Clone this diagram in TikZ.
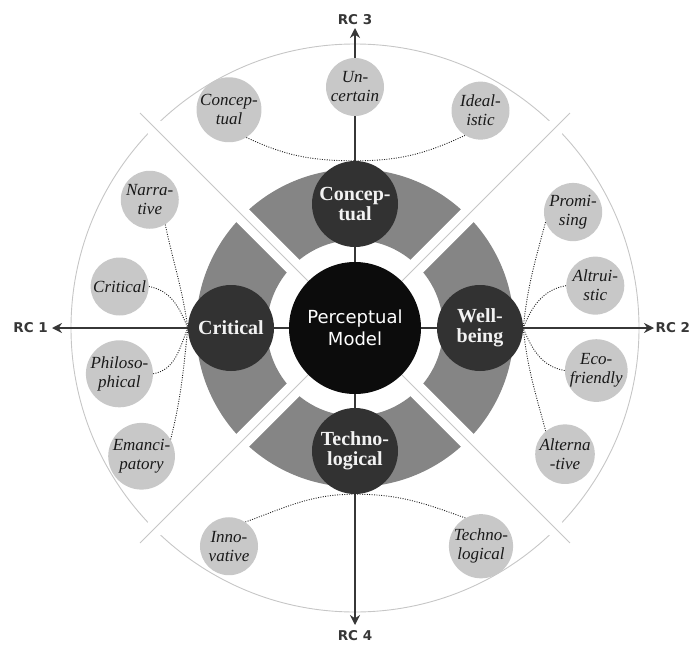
\documentclass[tikz,border=0pt]{standalone}
\usepackage{fontspec}
\setmainfont{Liberation Serif}
\newfontfamily\rcsans{DejaVu Sans}
\usepackage{tikz}
\usetikzlibrary{arrows.meta,positioning,backgrounds}
\definecolor{ringgray}{RGB}{133,133,133}
\definecolor{dimdark}{RGB}{50,50,50}
\definecolor{coreblack}{RGB}{12,12,12}
\definecolor{itemgray}{RGB}{200,200,200}
\definecolor{rimgray}{RGB}{198,198,198}
\definecolor{axisdark}{RGB}{55,55,55}

\begin{document}
\begin{tikzpicture}[
  x=1pt,y=1pt,
  core/.style={circle,fill=coreblack,text=white,minimum size=132pt,inner sep=0pt,align=center,font=\rcsans\fontsize{18}{22}\selectfont},
  dim/.style={circle,fill=dimdark,text=white!95!black,minimum size=86pt,inner sep=0pt,align=center,font=\bfseries\fontsize{20}{20}\selectfont},
  item/.style={circle,fill=itemgray,text=black!90,minimum size=58pt,inner sep=0pt,align=center,font=\itshape\fontsize{17}{19}\selectfont},
  rc/.style={font=\rcsans\bfseries\fontsize{13.5}{16}\selectfont,text=axisdark,inner sep=1pt},
  axis/.style={-{Stealth[length=10pt,width=10pt]},line width=2.5pt,draw=axisdark},
  link/.style={draw=black!85,line width=0.9pt,dash pattern=on 1pt off 1.4pt},
  rim/.style={draw=rimgray,line width=0.9pt}
]
  \useasboundingbox (-355,-317) rectangle (337,328);

  \node[core] (pm) at (0,0) {Perceptual\\Model};
  \node[dim] (conc) at (90:124) {Concep-\\tual};
  \node[dim] (well) at (0:125) {Well-\\being};
  \node[dim] (tech) at (270:123) {Techno-\\logical};
  \node[dim] (crit) at (180:124) {Critical};

  \node[item] (concS) at (120:252) {Concep-\\tual};
  \node[item] (uncert) at (90:241) {Un-\\certain};
  \node[item] (ideal) at (60:251) {Ideal-\\istic};
  \node[item] (narr) at (148:242) {Narra-\\tive};
  \node[item] (critS) at (170:239) {Critical};
  \node[item] (philo) at (191:240) {Philoso-\\phical};
  \node[item] (emanc) at (211:249) {Emanci-\\patory};
  \node[item] (promi) at (28:247) {Promi-\\sing};
  \node[item] (altru) at (10:244) {Altrui-\\stic};
  \node[item] (eco) at (-10:245) {Eco-\\friendly};
  \node[item] (alter) at (-31:245) {Alterna\\-tive};
  \node[item] (innov) at (240:252) {Inno-\\vative};
  \node[item] (techS) at (300:252) {Techno-\\logical};

  \coordinate (rc1) at (-303,0);
  \coordinate (rc2) at (299,0);
  \coordinate (rc3) at (0,300);
  \coordinate (rc4) at (0,-297);
  \node[rc,left=3pt of rc1] (lab1) {RC 1};
  \node[rc,right=0.5pt of rc2] (lab2) {RC 2};
  \node[rc,above=2pt of rc3] (lab3) {RC 3};
  \node[rc,below=4pt of rc4] (lab4) {RC 4};

  \begin{scope}[on background layer]
    \draw[rim] (0,0) circle (284);
    \fill[ringgray,even odd rule] (0,0) circle (159) (0,0) circle (88);
    \draw[white,line width=18pt] (135:312) -- (-45:312);
    \draw[white,line width=18pt] (45:312) -- (225:312);
    \draw[rim] (135:304) -- (-45:304);
    \draw[rim] (45:304) -- (225:304);

    \draw[axis] (pm) -- (rc1);
    \draw[axis] (pm) -- (rc2);
    \draw[axis] (pm) -- (rc3);
    \draw[axis] (pm) -- (rc4);

    \draw[link] (concS.-58) to[out=-25,in=180] (conc.north);
    \draw[link] (ideal.238) to[out=205,in=0] (conc.north);
    \draw[link] (narr.-58) to[out=-78,in=98] (crit.west);
    \draw[link] (critS.0) to[out=-10,in=112] (crit.west);
    \draw[link] (philo.0) to[out=10,in=-112] (crit.west);
    \draw[link] (emanc.30) to[out=76,in=-96] (crit.west);
    \draw[link] (promi.200) to[out=-105,in=84] (well.east);
    \draw[link] (altru.180) to[out=190,in=68] (well.east);
    \draw[link] (eco.180) to[out=170,in=-68] (well.east);
    \draw[link] (alter.130) to[out=105,in=-84] (well.east);
    \draw[link] (innov.56) to[out=20,in=180] (tech.south);
    \draw[link] (techS.119) to[out=160,in=0] (tech.south);
  \end{scope}
\end{tikzpicture}
\end{document}
